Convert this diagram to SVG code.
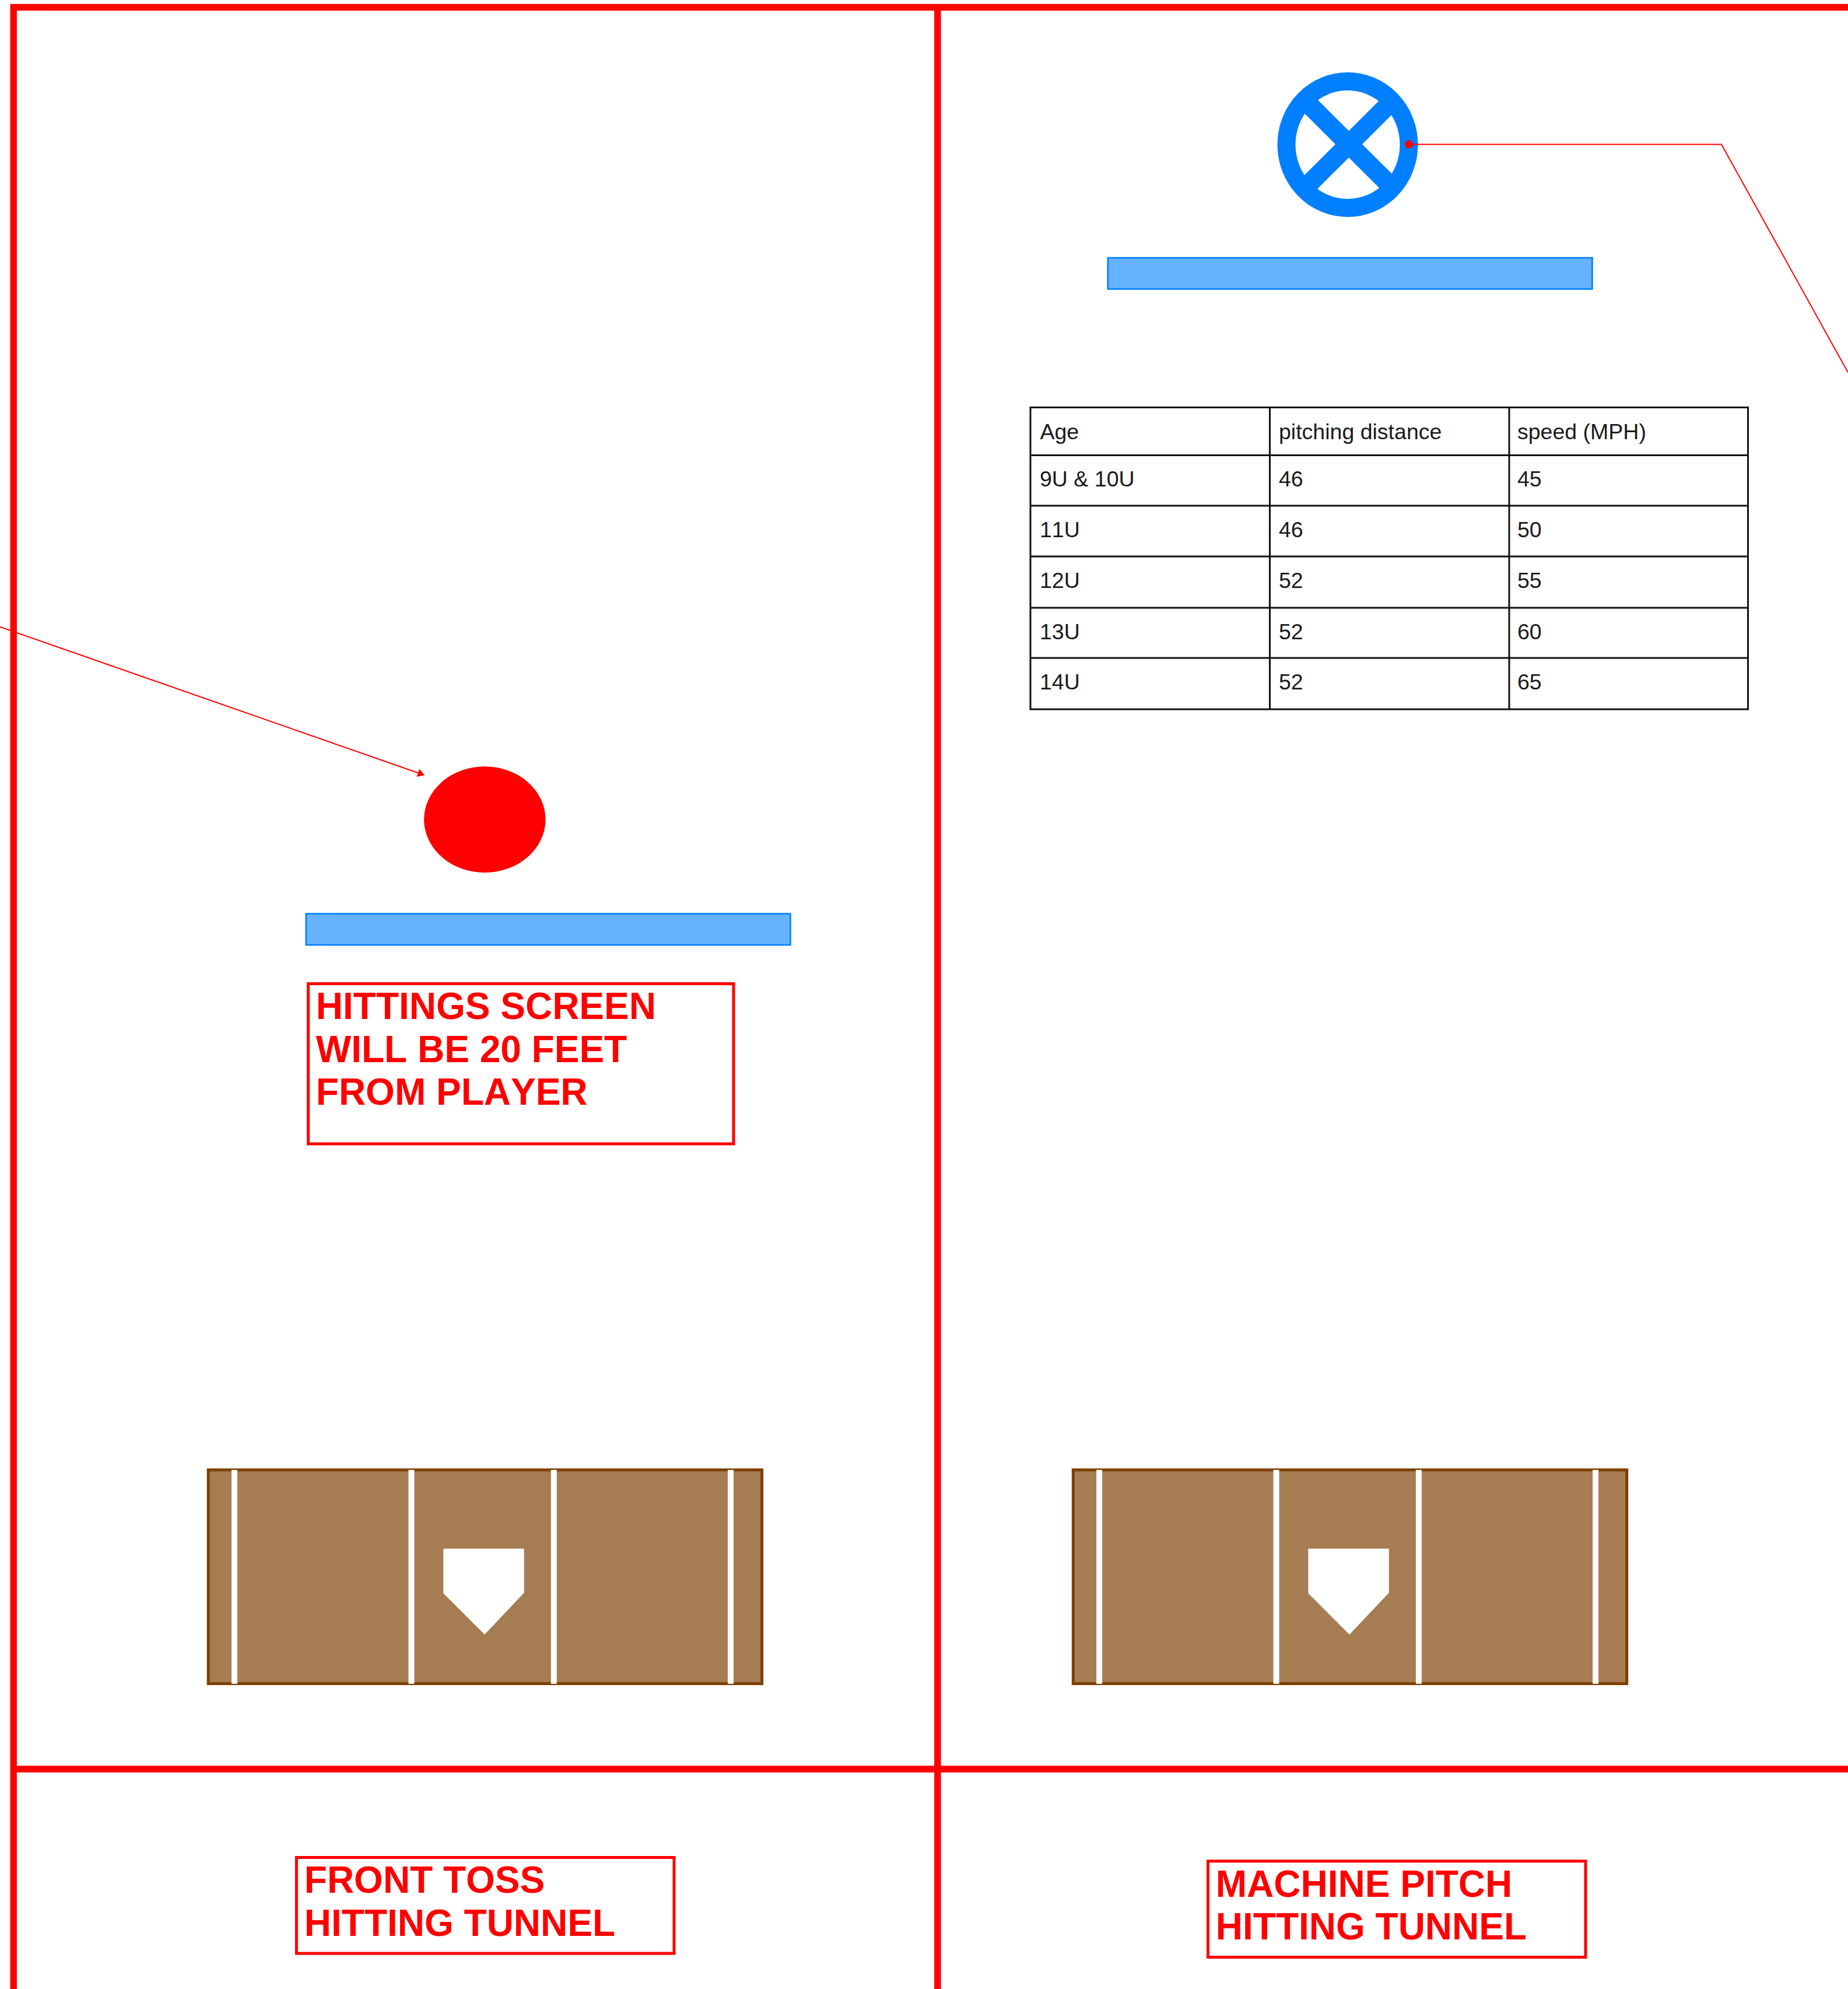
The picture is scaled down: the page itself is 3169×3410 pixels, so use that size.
<svg xmlns="http://www.w3.org/2000/svg" width="3169" height="3410" viewBox="0 0 3169 3410">
<style>
.frame{fill:none;stroke:#ff0000;stroke-width:11.4}
.bar{fill:#66b2ff;stroke:#007fff;stroke-width:2.6}
.note{fill:none;stroke:#ff0000;stroke-width:5}
.big{font-family:"Liberation Sans",Arial,sans-serif;font-weight:700;font-size:64px;fill:#ff0000;font-kerning:none}
.dirt{fill:#a67c52;stroke:#7f3f00;stroke-width:5}
.chalk{stroke:#ffffff;stroke-width:10;fill:none}
.plate{fill:#ffffff}
.wire{fill:none;stroke:#ff0000;stroke-width:2}
.grid{fill:none;stroke:#111111;stroke-width:3}
.cell{font-family:"Liberation Sans",Arial,sans-serif;font-size:37.5px;fill:#1a1a1a;font-kerning:none}
</style>
<defs>
<marker id="arrow" markerUnits="userSpaceOnUse" markerWidth="14" markerHeight="16" refX="0" refY="7.5" orient="auto"><path d="M0,0.3 L12.2,7.5 L0,14.7 Z" fill="#ff0000"/></marker>
<marker id="dot" markerUnits="userSpaceOnUse" markerWidth="16" markerHeight="16" refX="8" refY="8"><circle cx="8" cy="8" r="7" fill="#ff0000"/></marker>
</defs>
<rect width="3169" height="3410" fill="#ffffff"/>
<g id="frame">
<path class="frame" d="M3180,12.5 H23.2 V3420"/>
<path class="frame" d="M23.2,3033 H3180"/>
<path class="frame" d="M1607.8,12.5 V3420"/>
</g>
<g id="screen-left"><rect class="bar" x="524.8" y="1566.5" width="830.6" height="53.5"/></g>
<g id="screen-right"><rect class="bar" x="1899.8" y="442" width="830.6" height="53.5"/></g>
<g id="player"><ellipse cx="831.3" cy="1405" rx="104.2" ry="91" fill="#ff0000"/></g>
<g id="machine">
<ellipse cx="2311" cy="248" rx="105" ry="108.5" fill="#ffffff" stroke="#007fff" stroke-width="31"/>
<path d="M2235,169.5 L2391,325 M2391,169.5 L2235,325" fill="none" stroke="#007fff" stroke-width="32.5"/>
</g>
<g id="note-hitting">
<rect class="note" x="528.6" y="1686.5" width="729.4" height="274.5"/>
<text class="big" x="541.8" y="1747.3">HITTINGS SCREEN</text>
<text class="big" x="541.8" y="1820.8">WILL BE 20 FEET</text>
<text class="big" x="541.8" y="1894.3">FROM PLAYER</text>
</g>
<g id="note-front-toss">
<rect class="note" x="508.4" y="3184.5" width="647.6" height="164.5"/>
<text class="big" x="521.8" y="3245">FRONT TOSS</text>
<text class="big" x="521.8" y="3318.6">HITTING TUNNEL</text>
</g>
<g id="note-machine-pitch">
<rect class="note" x="2071.5" y="3190.8" width="647.5" height="164.7"/>
<text class="big" x="2084.8" y="3251.7">MACHINE PITCH</text>
<text class="big" x="2084.8" y="3325.3">HITTING TUNNEL</text>
</g>
<g id="field-left">
<rect class="dirt" x="357.2" y="2520" width="949.4" height="366.5"/>
<path class="chalk" d="M402,2520 V2886.7 M705.5,2520 V2886.7 M949.8,2520 V2886.7 M1253,2520 V2886.7"/>
<polygon class="plate" points="760.3,2655 898.7,2655 898.7,2730.7 831,2802.3 760.3,2731.5"/>
</g>
<g id="field-right" transform="translate(1483.1,0)">
<rect class="dirt" x="357.2" y="2520" width="949.4" height="366.5"/>
<path class="chalk" d="M402,2520 V2886.7 M705.5,2520 V2886.7 M949.8,2520 V2886.7 M1253,2520 V2886.7"/>
<polygon class="plate" points="760.3,2655 898.7,2655 898.7,2730.7 831,2802.3 760.3,2731.5"/>
</g>
<g id="table">
<path class="grid" d="M1767,698.5 H2997.5 V1216 H1767 Z M1767,780.5 H2997.5 M1767,867 H2997.5 M1767,954 H2997.5 M1767,1042 H2997.5 M1767,1128 H2997.5 M2177.5,698.5 V1216 M2588,698.5 V1216"/>
<text class="cell" x="1783.5" y="752.7">Age</text>
<text class="cell" x="2193" y="752.7">pitching distance</text>
<text class="cell" x="2602" y="752.7">speed (MPH)</text>
<text class="cell" x="1783" y="834">9U &amp; 10U</text>
<text class="cell" x="2193" y="834">46</text>
<text class="cell" x="2602" y="834">45</text>
<text class="cell" x="1783" y="920.7">11U</text>
<text class="cell" x="2193" y="920.7">46</text>
<text class="cell" x="2602" y="920.7">50</text>
<text class="cell" x="1783" y="1007.5">12U</text>
<text class="cell" x="2193" y="1007.5">52</text>
<text class="cell" x="2602" y="1007.5">55</text>
<text class="cell" x="1783" y="1095.5">13U</text>
<text class="cell" x="2193" y="1095.5">52</text>
<text class="cell" x="2602" y="1095.5">60</text>
<text class="cell" x="1783" y="1182">14U</text>
<text class="cell" x="2193" y="1182">52</text>
<text class="cell" x="2602" y="1182">65</text>
</g>
<g id="connectors">
<path class="wire" d="M2416,247.6 H2952 L3169,638.5" marker-start="url(#dot)"/>
<path class="wire" d="M0,1074.7 L716.7,1325" marker-end="url(#arrow)"/>
</g>
</svg>
